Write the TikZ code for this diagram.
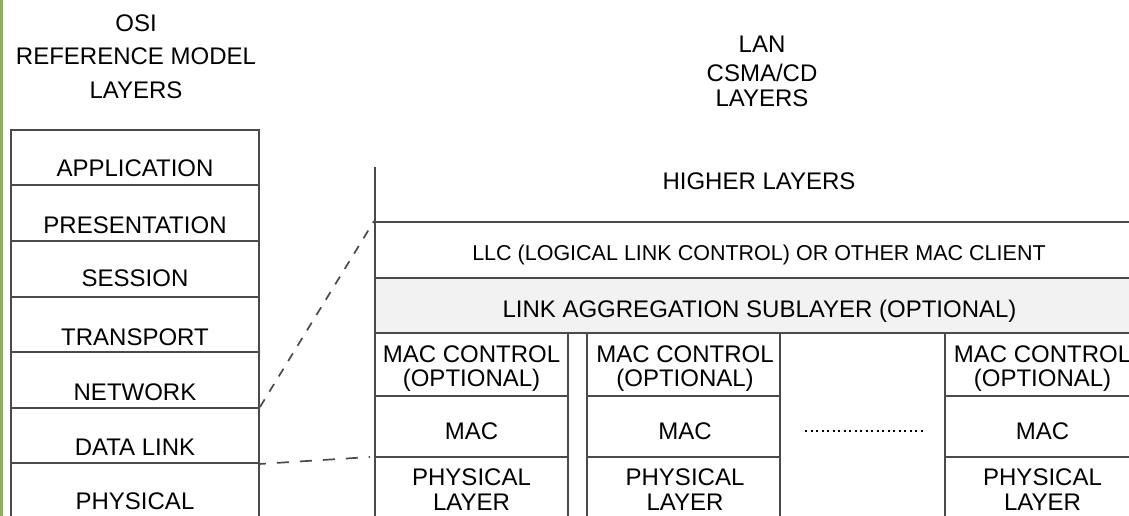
\documentclass[tikz,border=0pt]{standalone}
\usepackage{fontspec}
\setmainfont{Liberation Sans}
\usetikzlibrary{fit}
\definecolor{linec}{HTML}{4A4A4A}
\definecolor{aggfill}{HTML}{F2F2F2}
\definecolor{strip}{HTML}{8DAE5A}
\tikzset{
  ln/.style={draw=linec, line width=1.9pt},
  cell/.style={ln, rectangle, inner sep=0pt},
  txt/.style={font=\fontsize{24}{24}\selectfont, anchor=base, inner sep=0pt},
  smalltxt/.style={font=\fontsize{21.5}{21.5}\selectfont, anchor=base, inner sep=0pt},
  dashconn/.style={draw=linec, line width=1.7pt, dash pattern=on 9pt off 9pt},
  dashconnb/.style={draw=linec, line width=1.7pt, dash pattern=on 12pt off 11pt, dash phase=6pt},
  dotline/.style={draw=black, line width=2pt, dash pattern=on 2pt off 3.5pt}
}
\begin{document}
\begin{tikzpicture}[x=1pt, y=-1pt]
\useasboundingbox (0,0) rectangle (1129,516);
\clip (0,0) rectangle (1129,516);
\fill[white] (0,0) rectangle (1129,516);
\fill[strip] (0,0) rectangle (3,516);

% titles
\node[txt] (t1) at (136,32) {OSI};
\node[txt] (t2) at (136,65) {REFERENCE MODEL};
\node[txt] (t3) at (136,99) {LAYERS};
\node[txt] (l1) at (762,53) {LAN};
\node[txt] (l2) at (762,81.5) {CSMA/CD};
\node[txt] (l3) at (762,107) {LAYERS};

% OSI stack
\node[cell, fit={(11,130) (259,185)}] (app) {};
\node[cell, fit={(11,185) (259,241)}] (pres) {};
\node[cell, fit={(11,241) (259,297)}] (sess) {};
\node[cell, fit={(11,297) (259,352)}] (trans) {};
\node[cell, fit={(11,352) (259,408)}] (net) {};
\node[cell, fit={(11,408) (259,463)}] (dl) {};
\node[cell, fit={(11,463) (259,530)}] (phy) {};
\node[txt] at (135,176) {APPLICATION};
\node[txt] at (135,233) {PRESENTATION};
\node[txt] at (135,286) {SESSION};
\node[txt] at (135,345) {TRANSPORT};
\node[txt] at (135,400) {NETWORK};
\node[txt] at (135,455) {DATA LINK};
\node[txt] at (135,509) {PHYSICAL};

% LAN stack
\coordinate (vtop) at (375,167);
\coordinate (vbot) at (375,530);
\draw[ln] (vtop) -- (vbot);
\node[txt] (hl) at (759,189) {HIGHER LAYERS};
\node[cell, fit={(375,222) (1140,278)}] (llc) {};
\node[smalltxt] at (759,260) {LLC (LOGICAL LINK CONTROL) OR OTHER MAC CLIENT};
\node[cell, fill=aggfill, fit={(375,278) (1140,333)}] (agg) {};
\node[txt] at (759.5,317) {LINK AGGREGATION SUBLAYER (OPTIONAL)};

% columns
\foreach \n/\xl/\xr/\xc in {a/375/568/471.5, b/587/780/685, c/945/1140/1042.5}{
  \node[cell, fit={(\xl,333) (\xr,396)}] (ctl\n) {};
  \node[cell, fit={(\xl,396) (\xr,457)}] (mac\n) {};
  \node[cell, fit={(\xl,457) (\xr,530)}] (phy\n) {};
  \node[txt] at (\xc,362) {MAC CONTROL};
  \node[txt] at (\xc,386) {(OPTIONAL)};
  \node[txt] at (\xc,439) {MAC};
  \node[txt] at (\xc,485) {PHYSICAL};
  \node[txt] at (\xc,510) {LAYER};
}

% dotted ellipsis
\coordinate (d1) at (805,431);
\coordinate (d2) at (925,431);
\draw[dotline] (d1) -- (d2);

% dashed connectors
\draw[dashconn] (dl.north east) -- (llc.north west);
\coordinate (phyaw) at (370,457);
\draw[dashconnb] (dl.south east) -- (phyaw);
\end{tikzpicture}
\end{document}
